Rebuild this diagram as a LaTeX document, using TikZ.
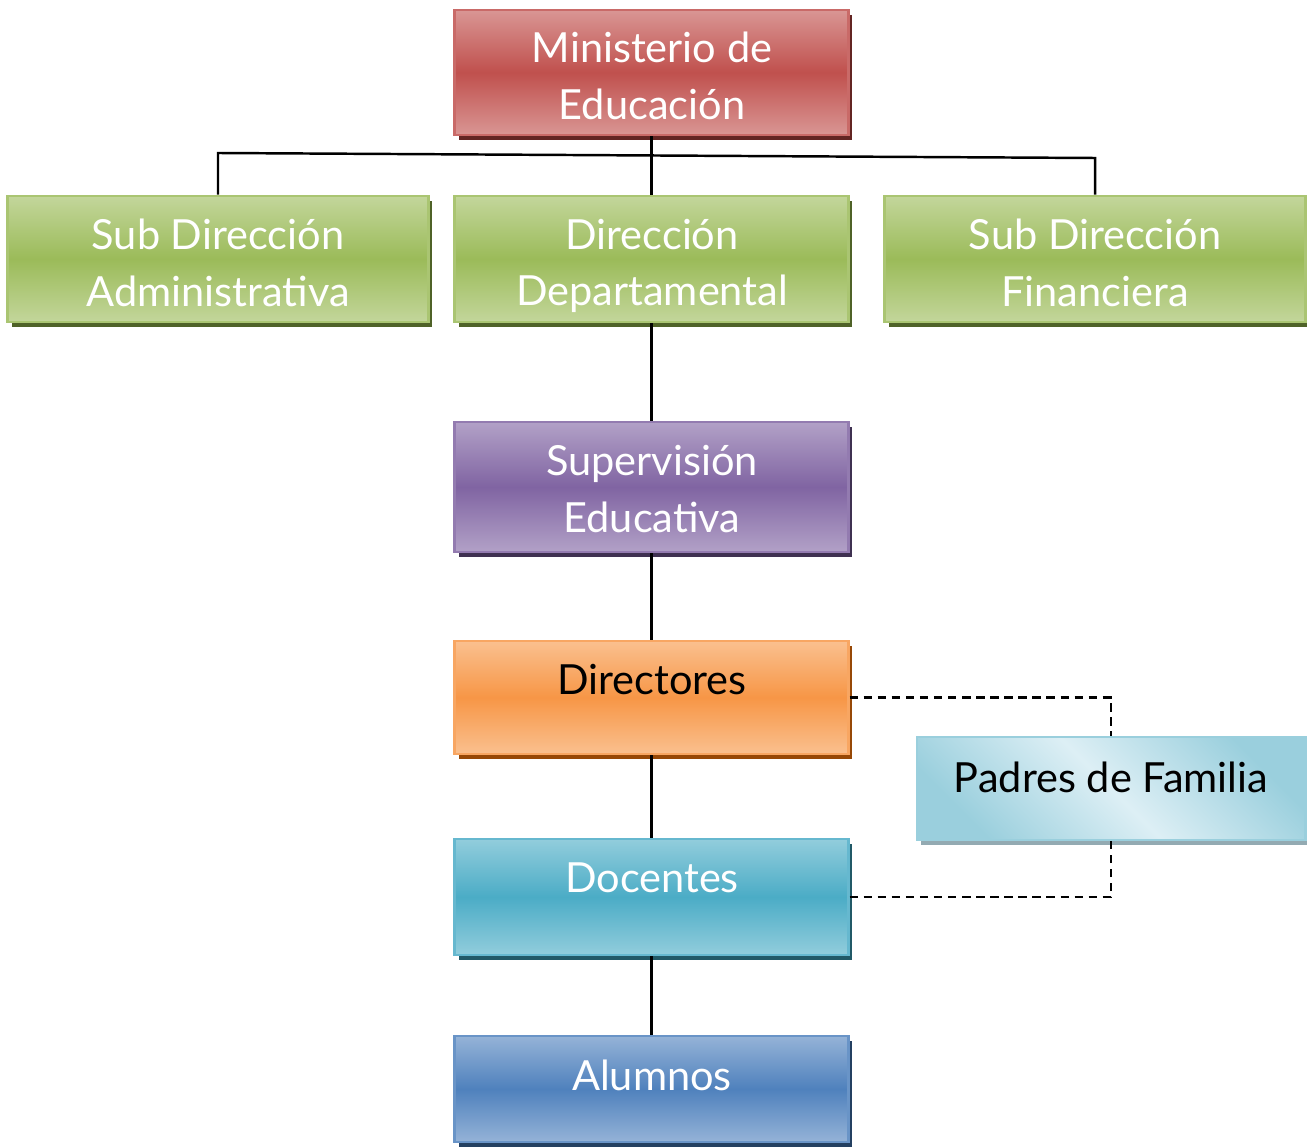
\documentclass[tikz,border=0pt]{standalone}
\usepackage{fontspec}
\setmainfont{Lato}
\usetikzlibrary{shadows}
\definecolor{minmid}{HTML}{C0504D}
\definecolor{minlight}{HTML}{D99694}
\definecolor{minshade}{HTML}{632523}
\definecolor{dirmid}{HTML}{9BBB59}
\definecolor{dirlight}{HTML}{C3D69B}
\definecolor{dirshade}{HTML}{4F6228}
\definecolor{supmid}{HTML}{8064A2}
\definecolor{suplight}{HTML}{B2A1C7}
\definecolor{supshade}{HTML}{3F3151}
\definecolor{dtrmid}{HTML}{F79646}
\definecolor{dtrlight}{HTML}{FAC08F}
\definecolor{dtrshade}{HTML}{974806}
\definecolor{docmid}{HTML}{4BACC6}
\definecolor{doclight}{HTML}{92CDDC}
\definecolor{docshade}{HTML}{215967}
\definecolor{alumid}{HTML}{4F81BD}
\definecolor{alulight}{HTML}{95B3D7}
\definecolor{alushade}{HTML}{244061}
\definecolor{padlight}{HTML}{DDEFF5}
\definecolor{paddark}{HTML}{9ACFDD}
\definecolor{padshade}{HTML}{93AAB2}
\tikzset{
  orgbox/.style n args={3}{draw=#1!85!white, line width=0.8pt, top color=#2, bottom color=#2, middle color=#1,
    general shadow={fill=#3, shadow xshift=0.04cm, shadow yshift=-0.05cm}, inner sep=0pt},
  padbox/.style={draw=paddark, line width=0.8pt, top color=paddark, bottom color=paddark, middle color=padlight,
    shading angle=-45, general shadow={fill=padshade, shadow xshift=0.04cm, shadow yshift=-0.05cm}, inner sep=0pt},
  orgtext/.style={align=center, text=white, font=\fontsize{11.8}{16}\selectfont},
  link/.style={line width=0.7pt},
  dashlink/.style={line width=0.7pt, dash pattern=on 2.4pt off 1.6pt},
}
\begin{document}
\begin{tikzpicture}[x=0.01cm, y=-0.01cm]
\useasboundingbox (0,0) rectangle (1307,1146);
% cajas
\node[orgbox={minmid}{minlight}{minshade}, minimum width=3.93cm, minimum height=1.25cm] (min) at (651.5,72.5) {};
\node[orgbox={dirmid}{dirlight}{dirshade}, minimum width=4.2cm, minimum height=1.26cm] (sadm) at (218,259) {};
\node[orgbox={dirmid}{dirlight}{dirshade}, minimum width=3.93cm, minimum height=1.26cm] (dir) at (651.5,259) {};
\node[orgbox={dirmid}{dirlight}{dirshade}, minimum width=4.2cm, minimum height=1.26cm] (sfin) at (1095,259) {};
\node[orgbox={supmid}{suplight}{supshade}, minimum width=3.93cm, minimum height=1.3cm] (sup) at (651.5,487) {};
\node[orgbox={dtrmid}{dtrlight}{dtrshade}, minimum width=3.93cm, minimum height=1.13cm] (dtr) at (651.5,697.5) {};
\node[padbox, minimum width=3.88cm, minimum height=1.03cm] (pad) at (1111,788.5) {};
\node[orgbox={docmid}{doclight}{docshade}, minimum width=3.93cm, minimum height=1.16cm] (doc) at (651.5,897) {};
\node[orgbox={alumid}{alulight}{alushade}, minimum width=3.93cm, minimum height=1.06cm] (alu) at (651.5,1089) {};
% textos
\node[orgtext] (min-t) at (652,76) {Ministerio de\\Educación};
\node[orgtext] (sadm-t) at (218,263) {Sub Dirección\\Administrativa};
\node[orgtext] (dir-t) at (652,266) {Dirección\\Departamental};
\node[orgtext] (sfin-t) at (1095,263) {Sub Dirección\\Financiera};
\node[orgtext] (sup-t) at (652,489) {Supervisión\\Educativa};
\node[orgtext, text=black] (dtr-t) at (652,680) {Directores};
\node[orgtext, text=black] (pad-t) at (1111,777) {Padres de Familia};
\node[orgtext] (doc-t) at (652,878) {Docentes};
\node[orgtext] (alu-t) at (652,1075) {Alumnos};
% lineas
\coordinate (jl) at (218,153);
\coordinate (jr) at (1095,158);
\draw[link] (min) -- (dir);
\draw[link] (sadm) -- (jl) -- (jr) -- (sfin);
\draw[link] (dir) -- (sup);
\draw[link] (sup) -- (dtr);
\draw[link] (dtr) -- (doc);
\draw[link] (doc) -- (alu);
\draw[dashlink] (dtr.east) -| (pad);
\draw[dashlink] (doc.east) -| (pad);
\end{tikzpicture}
\end{document}
